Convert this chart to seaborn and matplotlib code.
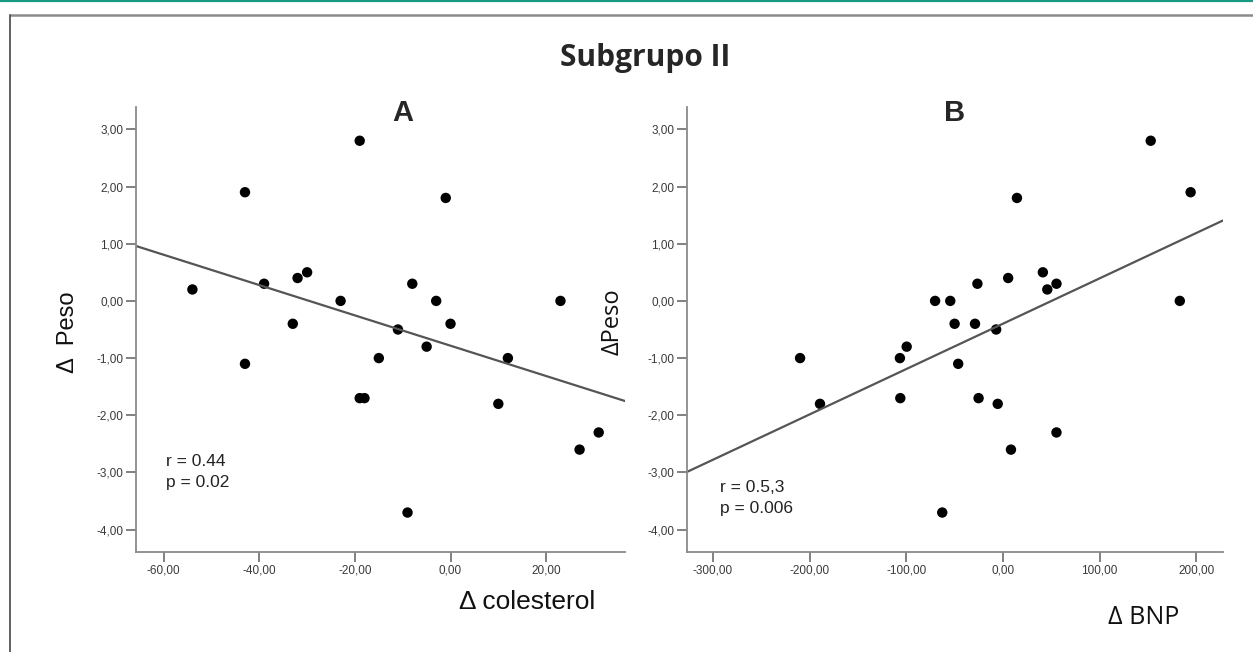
import matplotlib
matplotlib.use("Agg")
import matplotlib.pyplot as plt
from matplotlib.lines import Line2D
from matplotlib.ticker import FuncFormatter
import seaborn as sns
import pandas as pd

# ---- data ----
colesterol = [-54, -43, -19, -1, -39, -32, -30, -23, -8, -3, 23, -33,
              -11, 0, -5, -43, -15, 12, -19, -18, 10, 31, 27, -9]
peso_a = [0.2, 1.9, 2.8, 1.8, 0.3, 0.4, 0.5, 0.0, 0.3, 0.0, 0.0, -0.4,
          -0.5, -0.4, -0.8, -1.1, -1.0, -1.0, -1.7, -1.7, -1.8, -2.3, -2.6, -3.7]

bnp = [152.9, 194.2, 14.5, 41.3, 5.4, -26.4, 55.4, 45.9, -70.2, -54.5, 183.0,
       -50.0, -28.9, -7.0, -99.6, -106.6, -209.9, -46.3, -189.3, -106.2,
       -25.2, -5.4, 55.4, 8.3, -62.8]
peso_b = [2.8, 1.9, 1.8, 0.5, 0.4, 0.3, 0.3, 0.2, 0.0, 0.0, 0.0,
          -0.4, -0.4, -0.5, -0.8, -1.0, -1.0, -1.1, -1.8, -1.7,
          -1.7, -1.8, -2.3, -2.6, -3.7]

xticks_a = [-60, -40, -20, 0, 20]
xticks_b = [-300, -200, -100, 0, 100, 200]
yticks = [-4, -3, -2, -1, 0, 1, 2, 3]

title = "Subgrupo II"
panel_a, panel_b = "A", "B"
stats_a = ["r = 0.44", "p = 0.02"]
stats_b = ["r = 0.5,3", "p = 0.006"]
xlabel_a, xlabel_b = "\u0394 colesterol", "\u0394 BNP"
ylabel_a, ylabel_b = "\u0394  Peso", "\u0394Peso"

df_a = pd.DataFrame({"x": colesterol, "y": peso_a})
df_b = pd.DataFrame({"x": bnp, "y": peso_b})

sns.set_style("ticks")
plt.rcParams["font.family"] = ["Liberation Sans", "DejaVu Sans"]

W, H = 1253, 652
fig = plt.figure(figsize=(W / 100, H / 100), dpi=100)
fig.patch.set_facecolor("white")


def fx(px):
    return px / W


def fy(py):
    return 1 - py / H


def make_axes(left, right, top, bottom):
    return fig.add_axes([fx(left), fy(bottom), fx(right) - fx(left), fy(top) - fy(bottom)])


ax_a = make_axes(136, 625, 107, 552)
ax_b = make_axes(687, 1223, 107, 552)

fmt = FuncFormatter(lambda v, p: f"{v:.2f}".replace(".", ","))

for ax, df, xl, xt in [(ax_a, df_a, (-65.8, 36.5), xticks_a),
                       (ax_b, df_b, (-326.9, 227.7), xticks_b)]:
    ax.set_xlim(*xl)
    ax.set_ylim(-4.39, 3.39)
    sns.regplot(data=df, x="x", y="y", ax=ax, ci=None, truncate=False,
                scatter_kws=dict(s=56, color="black", edgecolor="none", alpha=1),
                line_kws=dict(color="#555555", lw=1.6))
    ax.set_xlim(*xl)
    ax.set_ylim(-4.39, 3.39)
    ax.set_xticks(xt)
    ax.set_yticks(yticks)
    ax.xaxis.set_major_formatter(fmt)
    ax.yaxis.set_major_formatter(fmt)
    ax.set_xlabel("")
    ax.set_ylabel("")
    for s in ["top", "right"]:
        ax.spines[s].set_visible(False)
    for s in ["left", "bottom"]:
        ax.spines[s].set_color("#8a8a8a")
        ax.spines[s].set_linewidth(1.3)
    ax.tick_params(axis="both", direction="out", length=7, width=1.3,
                   color="#777777", labelsize=8.5, labelcolor="#3a3a3a", pad=2)

# titles
fig.text(fx(645), fy(58), title, ha="center", va="center", fontsize=21.5,
         fontweight="bold", family=["Open Sans", "DejaVu Sans"])
fig.text(fx(403), fy(113), panel_a, ha="center", va="center", fontsize=21,
         fontweight="bold")
fig.text(fx(955), fy(113), panel_b, ha="center", va="center", fontsize=21,
         fontweight="bold")

# stats
fig.text(fx(166), fy(462), stats_a[0], ha="left", va="center", fontsize=12.5, color="#222222")
fig.text(fx(166), fy(483), stats_a[1], ha="left", va="center", fontsize=12.5, color="#222222")
fig.text(fx(720), fy(488), stats_b[0], ha="left", va="center", fontsize=12.5, color="#222222")
fig.text(fx(720), fy(508), stats_b[1], ha="left", va="center", fontsize=12.5, color="#222222")

# axis labels
fig.text(fx(527), fy(602), xlabel_a, ha="center", va="center", fontsize=19,
         family=["Liberation Sans Narrow", "Liberation Sans", "DejaVu Sans"], color="#111111")
fig.text(fx(1144), fy(618), xlabel_b, ha="center", va="center", fontsize=18,
         family=["Open Sans", "DejaVu Sans"], color="#111111")
fig.text(fx(68), fy(332), ylabel_a, ha="center", va="center", fontsize=17,
         rotation=90, color="#111111")
fig.text(fx(613), fy(322), ylabel_b, ha="center", va="center", fontsize=17,
         rotation=90, family=["Open Sans", "DejaVu Sans"], color="#111111")

# frame decorations
fig.add_artist(Line2D([0, 1], [fy(0.8), fy(0.8)], transform=fig.transFigure,
                      color="#169b82", lw=1.6))
fig.add_artist(Line2D([fx(10), 1], [fy(15), fy(15)], transform=fig.transFigure,
                      color="#8c8c8c", lw=1.8))
fig.add_artist(Line2D([fx(10), fx(10)], [fy(15), 0], transform=fig.transFigure,
                      color="#555555", lw=1.3))

fig.savefig("out.png", dpi=100, facecolor="white")
